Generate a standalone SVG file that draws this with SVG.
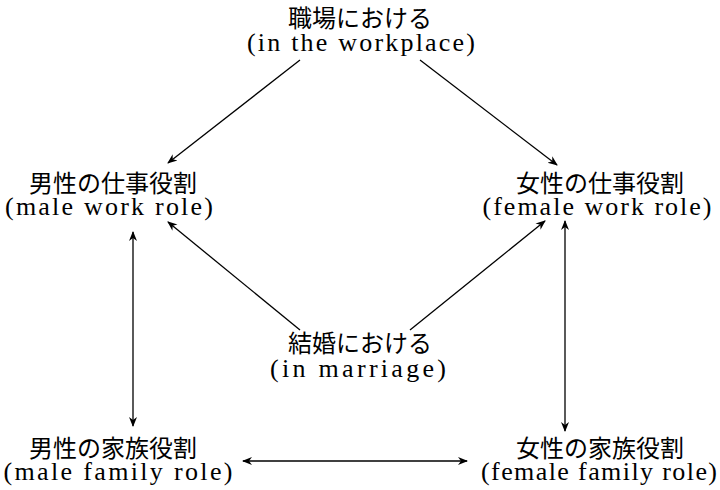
<svg xmlns="http://www.w3.org/2000/svg" width="720" height="490" viewBox="0 0 720 490">
<style>
text{font-family:"Liberation Serif","Noto Sans CJK JP",serif;fill:#000;text-anchor:middle}
.j{font-size:24px}
.e{font-size:26px}
.c line{stroke:#000;stroke-width:1.3;fill:none}
</style>
<defs>
<marker id="a" viewBox="0 0 10 10" refX="9" refY="5" markerWidth="10" markerHeight="10" markerUnits="userSpaceOnUse" orient="auto-start-reverse">
<path d="M0,1 L10,5 L0,9 L3,5 Z" fill="#000"/>
</marker>
</defs>
<rect width="720" height="490" fill="#fff"/>
<g id="workplace"><text class="j" x="360" y="27">職場における</text><text class="e" x="361" y="51" textLength="228" lengthAdjust="spacing">(in the workplace)</text></g>
<g id="male-work"><text class="j" x="113" y="192">男性の仕事役割</text><text class="e" x="109" y="215" textLength="208" lengthAdjust="spacing">(male work role)</text></g>
<g id="female-work"><text class="j" x="600" y="192">女性の仕事役割</text><text class="e" x="597" y="215" textLength="229" lengthAdjust="spacing">(female work role)</text></g>
<g id="marriage"><text class="j" x="360" y="352">結婚における</text><text class="e" x="358" y="377" textLength="176" lengthAdjust="spacing">(in marriage)</text></g>
<g id="male-family"><text class="j" x="113" y="457">男性の家族役割</text><text class="e" x="118" y="480" textLength="229" lengthAdjust="spacing">(male family role)</text></g>
<g id="female-family"><text class="j" x="600" y="457">女性の家族役割</text><text class="e" x="599" y="480" textLength="236" lengthAdjust="spacing">(female family role)</text></g>
<g class="c">
<line x1="300" y1="60" x2="168" y2="163" marker-end="url(#a)"/>
<line x1="420" y1="60" x2="557" y2="165" marker-end="url(#a)"/>
<line x1="300" y1="330" x2="168" y2="222" marker-end="url(#a)"/>
<line x1="410" y1="330" x2="545" y2="221" marker-end="url(#a)"/>
<line x1="133" y1="232" x2="133" y2="426" marker-start="url(#a)" marker-end="url(#a)"/>
<line x1="565" y1="221" x2="565" y2="431" marker-start="url(#a)" marker-end="url(#a)"/>
<line x1="243" y1="461" x2="467" y2="461" marker-start="url(#a)" marker-end="url(#a)"/>
</g>
</svg>
